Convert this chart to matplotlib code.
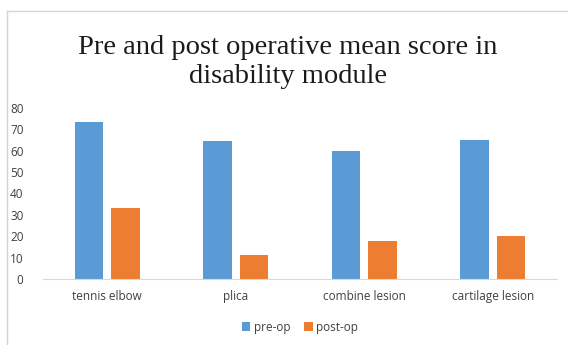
import matplotlib
matplotlib.use("Agg")
import matplotlib.pyplot as plt
import numpy as np
from matplotlib.lines import Line2D

categories = ["tennis elbow", "plica", "combine lesion", "cartilage lesion"]
pre_op = [73.5, 64.5, 60, 65]
post_op = [33, 11, 18, 20]
yticks = [0, 10, 20, 30, 40, 50, 60, 70, 80]

fig = plt.figure(figsize=(5.68, 3.45), dpi=100)
fig.patch.set_facecolor("white")
bx, by = 7 / 568, 1 - 11 / 345
fig.add_artist(Line2D([bx, 1.0], [by, by], transform=fig.transFigure,
                      color="#d4d4d4", linewidth=1.0))
fig.add_artist(Line2D([bx, bx], [0.0, by], transform=fig.transFigure,
                      color="#d4d4d4", linewidth=1.0))

ax = fig.add_axes([0.0757, 0.1913, 0.905, 0.4957])
x = np.arange(len(categories))
w = 0.22
off = 0.142
ax.bar(x - off, pre_op, w, color="#5b9bd5", label="pre-op")
ax.bar(x + off, post_op, w, color="#ed7d31", label="post-op")
ax.set_xlim(-0.5, 3.5)
ax.set_ylim(0, 80)
ax.set_yticks(yticks)
ax.set_xticks(x)
ax.set_xticklabels(categories)
for s in ["top", "right", "left"]:
    ax.spines[s].set_visible(False)
ax.spines["bottom"].set_color("#d9d9d9")
ax.tick_params(axis="both", length=0, labelsize=8.5, labelcolor="#404040")
ax.tick_params(axis="y", pad=14)
ax.tick_params(axis="x", pad=8)
for lab in ax.get_xticklabels() + ax.get_yticklabels():
    lab.set_fontfamily("Open Sans")

fig.text(0.507, 0.82, "Pre and post operative mean score in\ndisability module",
         ha="center", va="center", fontsize=20.5, family="Liberation Serif",
         linespacing=1.2, color="#1a1a1a")

leg = ax.legend(loc="center", bbox_to_anchor=(0.5, 1 - (327 - 108) / 171), ncol=2,
                frameon=False, handlelength=0.7, handleheight=0.7, handletextpad=0.3,
                columnspacing=1.2, prop={"family": "Open Sans", "size": 8.5})
for t in leg.get_texts():
    t.set_color("#404040")

fig.savefig("out.png", dpi=100)
